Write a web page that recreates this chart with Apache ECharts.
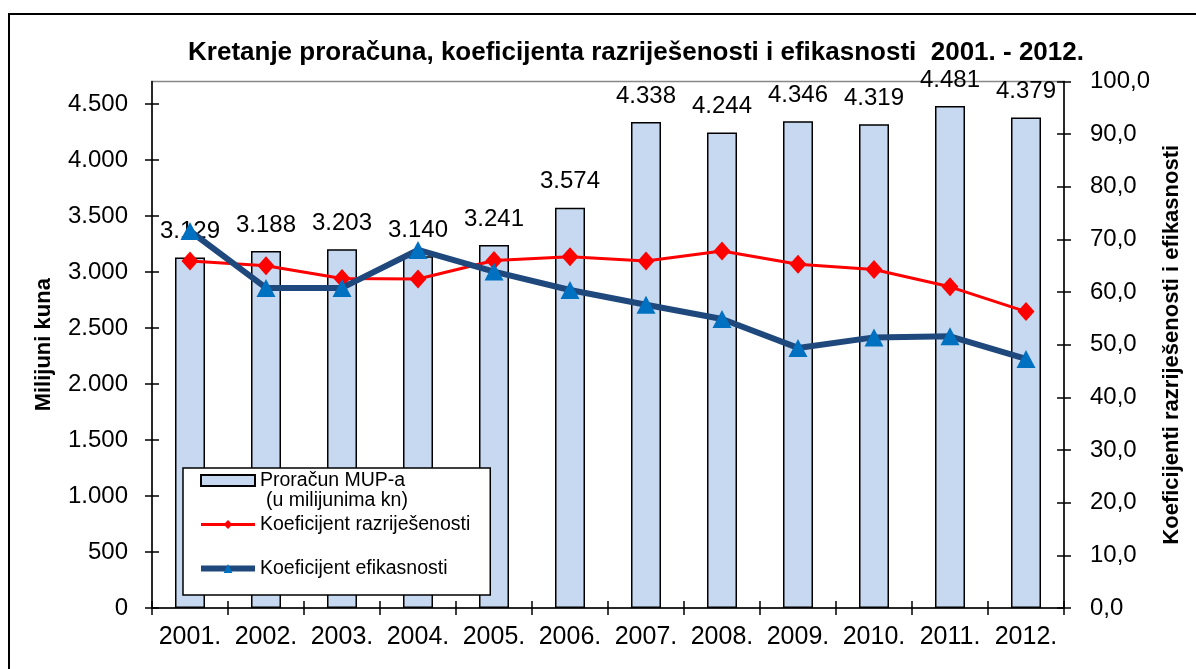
<!DOCTYPE html>
<html>
<head>
<meta charset="utf-8">
<script src="https://cdn.jsdelivr.net/npm/echarts@6/dist/echarts.min.js"></script>
<style>
  html, body { margin: 0; padding: 0; background: #fff; }
  #chart { width: 1196px; height: 669px; }
</style>
</head>
<body>
<div id="chart"></div>
<script>
// data
const years = ["2001.", "2002.", "2003.", "2004.", "2005.", "2006.", "2007.", "2008.", "2009.", "2010.", "2011.", "2012."];
const budget = [3129, 3188, 3203, 3140, 3241, 3574, 4338, 4244, 4346, 4319, 4481, 4379];
const solveRate = [65.9, 65.0, 62.6, 62.5, 66.0, 66.7, 65.9, 67.8, 65.3, 64.3, 61.0, 56.3];
const efficiency = [71.6, 60.8, 60.8, 68.0, 63.9, 60.4, 57.6, 54.9, 49.4, 51.4, 51.6, 47.3];
const leftTicks = [0, 500, 1000, 1500, 2000, 2500, 3000, 3500, 4000, 4500];
const rightTicks = [0, 10, 20, 30, 40, 50, 60, 70, 80, 90, 100];

const font = "Liberation Sans, Arial, sans-serif";
const fmtKn = v => String(v).replace(/\B(?=(\d{3})+(?!\d))/g, ".");
const fmtPct = v => v.toFixed(1).replace(".", ",");

const chart = echarts.init(document.getElementById("chart"));

const axisLine = { show: true, lineStyle: { color: "#000", width: 1.5 } };
const tickStyle = { color: "#000", width: 1.5 };

chart.setOption({
  animation: false,
  textStyle: { fontFamily: font, color: "#000" },
  title: {
    text: "Kretanje proračuna, koeficijenta razriješenosti i efikasnosti  2001. - 2012.",
    left: 631,
    top: 35,
    textAlign: "center",
    textStyle: { fontSize: 26, fontWeight: "bold", color: "#000", fontFamily: font }
  },
  graphic: [{
    type: "rect",
    shape: { x: 9, y: 14, width: 1196, height: 700 },
    style: { fill: "none", stroke: "#000", lineWidth: 2 },
    silent: true
  }, {
    // second line of the bar legend entry
    type: "text",
    left: 266,
    top: 491,
    z: 200,
    style: { text: "(u milijunima kn)", fontSize: 19.5, fontFamily: font, fill: "#000" },
    silent: true
  }],
  grid: {
    left: 152, right: 132, top: 81.5, bottom: 61,
    show: true, borderColor: "#888", borderWidth: 1.5, backgroundColor: "transparent"
  },
  legend: {
    orient: "vertical",
    left: 183,
    top: 468,
    padding: [2, 20, 16, 15],
    itemGap: 23,
    itemWidth: 54,
    itemHeight: 11,
    backgroundColor: "#fff",
    borderColor: "#000",
    borderWidth: 1.5,
    borderRadius: 0,
    textStyle: { fontSize: 19.5, lineHeight: 21, fontFamily: font, color: "#000" },
    data: [
      { name: "Proračun MUP-a", icon: "rect", itemStyle: { color: "#C6D9F1", borderColor: "#000", borderWidth: 2 } },
      { name: "Koeficijent razriješenosti", lineStyle: { width: 3 } },
      { name: "Koeficijent efikasnosti", lineStyle: { width: 6 } }
    ]
  },
  xAxis: [{
    type: "category",
    data: years,
    axisLine: axisLine,
    axisTick: { show: true, length: 7, lineStyle: tickStyle },
    axisLabel: { interval: 0, fontSize: 25, margin: 17, color: "#000", fontFamily: font }
  }, {
    type: "category",
    data: years,
    position: "bottom",
    axisLine: { show: false },
    axisTick: { show: true, inside: true, length: 7, lineStyle: tickStyle },
    axisLabel: { show: false }
  }],
  yAxis: [{
    type: "value",
    min: 0,
    max: 4700,
    position: "left",
    name: "Milijuni kuna",
    nameLocation: "middle",
    nameRotate: 90,
    nameGap: 97,
    nameTextStyle: { fontSize: 22, fontWeight: "bold", color: "#000", fontFamily: font },
    splitLine: { show: false },
    axisLine: axisLine,
    axisTick: { show: true, length: 7, customValues: leftTicks, lineStyle: tickStyle },
    axisLabel: { fontSize: 24, margin: 24, color: "#000", fontFamily: font, customValues: leftTicks, formatter: fmtKn }
  }, {
    type: "value",
    min: 0,
    max: 100,
    position: "right",
    name: "Koeficijenti razriješenosti i efikasnosti",
    nameLocation: "middle",
    nameRotate: 90,
    nameGap: 95,
    nameTextStyle: { fontSize: 22, fontWeight: "bold", color: "#000", fontFamily: font },
    splitLine: { show: false },
    axisLine: axisLine,
    axisTick: { show: true, length: 7, customValues: rightTicks, lineStyle: tickStyle },
    axisLabel: { fontSize: 24, margin: 26, color: "#000", fontFamily: font, customValues: rightTicks, formatter: fmtPct }
  }, {
    type: "value",
    min: 0,
    max: 4700,
    position: "left",
    splitLine: { show: false },
    axisLine: { show: false },
    axisTick: { show: true, inside: true, length: 7, customValues: leftTicks, lineStyle: tickStyle },
    axisLabel: { show: false }
  }, {
    type: "value",
    min: 0,
    max: 100,
    position: "right",
    splitLine: { show: false },
    axisLine: { show: false },
    axisTick: { show: true, inside: true, length: 7, customValues: rightTicks, lineStyle: tickStyle },
    axisLabel: { show: false }
  }],
  series: [{
    name: "Proračun MUP-a",
    type: "bar",
    data: budget,
    barWidth: 30,
    itemStyle: { color: "#C6D9F1", borderColor: "#000", borderWidth: 1.5 },
    label: {
      show: true,
      position: "top",
      distance: 14,
      fontSize: 24,
      color: "#000",
      fontFamily: font,
      formatter: p => fmtKn(p.value)
    },
    z: 1
  }, {
    name: "Koeficijent razriješenosti",
    type: "line",
    yAxisIndex: 1,
    data: solveRate,
    symbol: "diamond",
    symbolSize: [17, 19],
    lineStyle: { color: "#FF0000", width: 3 },
    itemStyle: { color: "#FF0000" },
    z: 3
  }, {
    name: "Koeficijent efikasnosti",
    type: "line",
    yAxisIndex: 1,
    data: efficiency,
    symbol: "triangle",
    symbolSize: [19, 18],
    lineStyle: { color: "#1F497D", width: 6 },
    itemStyle: { color: "#0070C0" },
    z: 4
  }]
});
</script>
</body>
</html>
